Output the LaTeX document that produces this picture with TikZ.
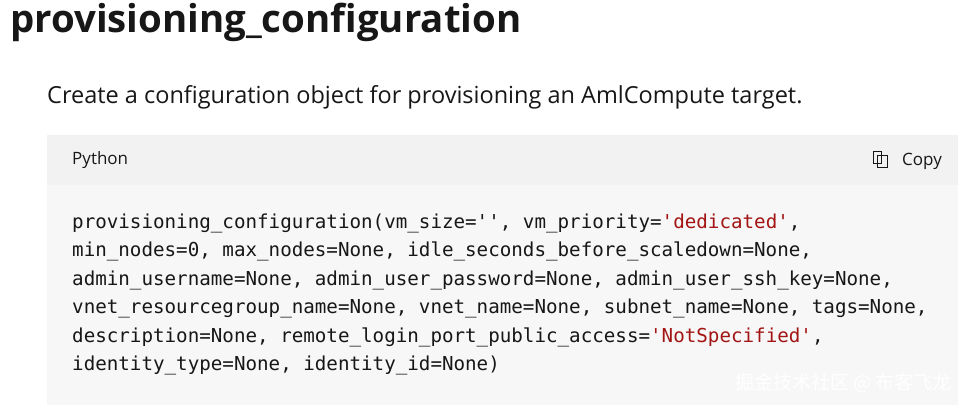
\documentclass[tikz,border=0pt]{standalone}
\usepackage{fontspec}
\setmainfont{Open Sans}
\setmonofont{DejaVu Sans Mono}
\newfontfamily\cjk{Noto Sans CJK SC}
\definecolor{hdr}{HTML}{F2F2F2}
\definecolor{body}{HTML}{F7F7F7}
\definecolor{strc}{HTML}{A31515}
\definecolor{txt}{HTML}{171717}
\begin{document}
\begin{tikzpicture}[x=1pt,y=-1pt,
  code/.style={anchor=west,inner sep=0,font=\fontsize{19.2}{20}\ttfamily,text=txt}]
\useasboundingbox (0,0) rectangle (966,413);
\fill[white] (0,0) rectangle (966,413);
\node[anchor=west,inner sep=0,font=\fontsize{38.4}{42}\selectfont\bfseries,text=txt] (title) at (10,22) {provisioning\_configuration};
\node[anchor=west,inner sep=0,font=\fontsize{23.5}{26}\selectfont,text=txt] (sub) at (47,97) {Create a configuration object for provisioning an AmlCompute target.};
\fill[hdr] (47,135) rectangle (958,185);
\fill[body] (47,185) rectangle (958,405);
\node[anchor=west,inner sep=0,font=\fontsize{17}{20}\selectfont,text=txt] (py) at (72,160) {Python};
\node[anchor=east,inner sep=0,font=\fontsize{17}{20}\selectfont,text=txt] (copy) at (942,161) {Copy};
\draw[txt,line width=0.9] (873,151) rectangle (881,163) (877,155) rectangle (887,167);
\node[code] (l1) at (72,223) {provisioning\_configuration(vm\_size='', vm\_priority=\textcolor{strc}{'dedicated'},};
\node[code] (l2) at (72,251.5) {min\_nodes=0, max\_nodes=None, idle\_seconds\_before\_scaledown=None,};
\node[code] (l3) at (72,280) {admin\_username=None, admin\_user\_password=None, admin\_user\_ssh\_key=None,};
\node[code] (l4) at (72,308.5) {vnet\_resourcegroup\_name=None, vnet\_name=None, subnet\_name=None, tags=None,};
\node[code] (l5) at (72,337) {description=None, remote\_login\_port\_public\_access=\textcolor{strc}{'NotSpecified'},};
\node[code] (l6) at (72,365.5) {identity\_type=None, identity\_id=None)};
\node[anchor=east,inner sep=0,font=\cjk\fontsize{19}{22}\selectfont,text=white] (wm) at (952,383) {掘金技术社区 @ 布客飞龙};
\end{tikzpicture}
\end{document}
